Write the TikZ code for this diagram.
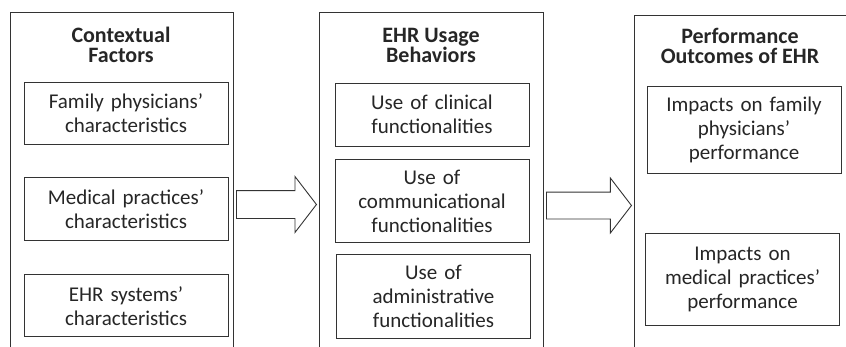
\documentclass[tikz,border=0pt]{standalone}
\usepackage{fontspec}
\setmainfont{Carlito}
\usetikzlibrary{positioning,shapes.arrows}

\newcommand{\boxfont}{\fontsize{21}{24}\selectfont}
\newcommand{\headfont}{\bfseries\fontsize{22}{20}\selectfont}

\tikzstyle{panel} = [rectangle, anchor=north west,
                      minimum width=223pt, minimum height=380pt,
                      draw=black!80, line width=0.9pt]
\tikzstyle{heading} = [align=center, font=\headfont, text=black!85]
\tikzstyle{factor} = [rectangle, inner sep=0pt,
                      text width=204pt, minimum height=62pt,
                      align=center, font=\boxfont, text=black!85,
                      fill=white,
                      draw=black!80, line width=0.9pt]
\tikzstyle{behavior} = [factor, text width=194pt]
\tikzstyle{bigArrow} = [single arrow, anchor=tail,
                      inner xsep=0pt, inner ysep=13.5pt,
                      single arrow head extend=14pt,
                      single arrow tip angle=105,
                      minimum height=80pt,
                      fill=white,
                      draw=black!80, line width=0.9pt]

\begin{document}
\begin{tikzpicture}[x=1pt, y=-1pt]

  \useasboundingbox (0,0) rectangle (846,346);
  \clip (0,0) rectangle (846,346);

  % the three panels, open below
  \node (context) [panel] at (10,12) {};
  \node (usage) [panel, minimum width=224pt] at (319,12) {};
  \node (outcome) [panel] at (634,15) {};

  \node (context-title) [heading] at (121,45) {
    Contextual\\
    Factors
  };

  \node (physician-char) [factor] at (126,113) {
    Family physicians'\\
    characteristics
  };

  \node (practice-char) [factor, below=33pt of physician-char, minimum height=63pt] {
    Medical practices'\\
    characteristics
  };

  \node (system-char) [factor, below=33pt of practice-char] {
    EHR systems'\\
    characteristics
  };

  \node (usage-title) [heading] at (431,45) {
    EHR Usage\\
    Behaviors
  };

  \node (clinical) [behavior, minimum height=63pt] at (432,114.5) {
    Use of clinical\\
    functionalities
  };

  \node (communication) [behavior, below=13pt of clinical, minimum height=83pt] {
    Use of\\
    communicational\\
    functionalities
  };

  \node (administrative) [behavior, below=11pt of communication, minimum height=84pt, xshift=1.5pt] {
    Use of\\
    administrative\\
    functionalities
  };

  \node (outcome-title) [heading] at (740,46) {
    Performance\\
    Outcomes of EHR
  };

  \node (physician-perf) [behavior, minimum height=87pt] at (744,129.5) {
    Impacts on family\\
    physicians'\\
    performance
  };

  \node (practice-perf) [behavior, below=60pt of physician-perf, minimum height=92pt, xshift=-1.5pt] {
    Impacts on\\
    medical practices'\\
    performance
  };

  % block arrows between the panels
  \node (to-usage) [bigArrow] at (236,204.5) {};
  \node (to-outcome) [bigArrow, minimum height=85pt, inner ysep=13pt] at (546,205.5) {};

\end{tikzpicture}
\end{document}
